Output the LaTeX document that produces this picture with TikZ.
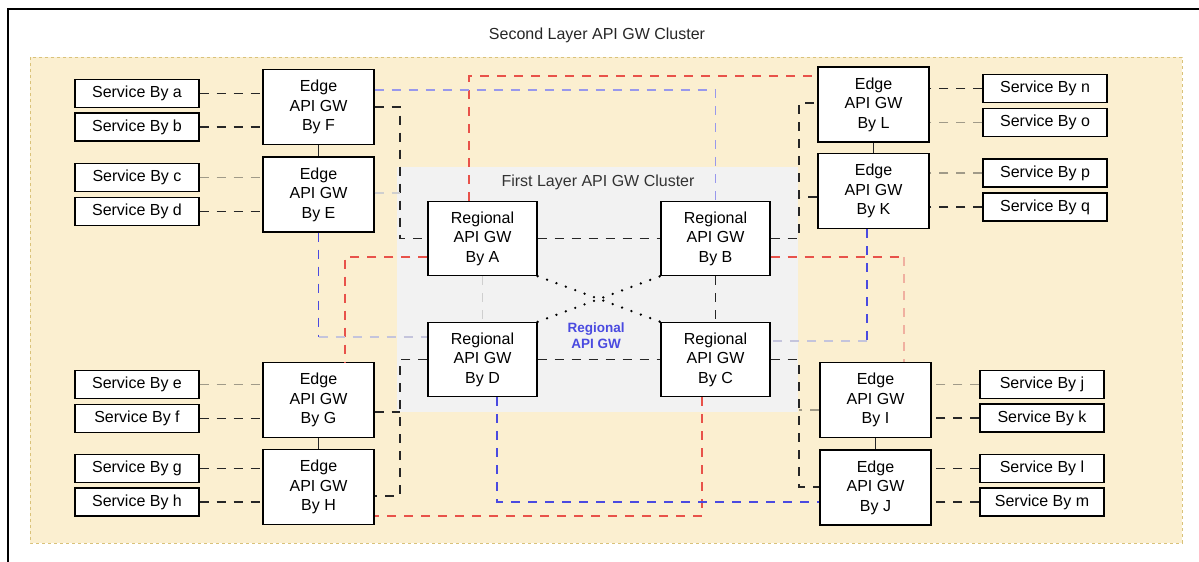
\documentclass[tikz,border=0pt]{standalone}
\usepackage{fontspec}
\setmainfont{Liberation Sans}
\usetikzlibrary{calc}
\definecolor{outerfill}{HTML}{FBEFD0}
\definecolor{outerline}{HTML}{D9C27A}
\definecolor{innerfill}{HTML}{F2F2F2}
\definecolor{redl}{HTML}{E8524A}
\definecolor{pinkl}{HTML}{F0B0A0}
\definecolor{bluel}{HTML}{4A4AE0}
\definecolor{bluepale}{HTML}{9898EC}
\definecolor{bluegray}{HTML}{C4C4DC}
\definecolor{darkl}{HTML}{262626}
\definecolor{tanl}{HTML}{A09A88}
\definecolor{graylt}{HTML}{CFCFCF}
\tikzset{
  box/.style={draw=black, line width=1.4pt, fill=white, align=center,
    font=\fontsize{16}{19.5}\selectfont, inner sep=0pt},
  svc/.style={box, minimum width=124pt, minimum height=28pt},
  edgebox/.style={box, minimum width=111pt, minimum height=75pt},
  regbox/.style={box, minimum width=109pt, minimum height=74pt},
  blk/.style={draw=darkl, line width=1.4pt, dash pattern=on 9pt off 8pt},
  tanc/.style={draw=tanl, line width=1.4pt, dash pattern=on 9pt off 8pt},
  redc/.style={draw=redl, line width=1.4pt, dash pattern=on 9pt off 8pt},
  pinkc/.style={draw=pinkl, line width=1.4pt, dash pattern=on 9pt off 8pt},
  bluec/.style={draw=bluel, line width=1.4pt, dash pattern=on 9pt off 8pt},
  bluepc/.style={draw=bluepale, line width=1.4pt, dash pattern=on 9pt off 8pt},
  bluegc/.style={draw=bluegray, line width=1.4pt, dash pattern=on 9pt off 8pt},
  grayc/.style={draw=graylt, line width=1.4pt, dash pattern=on 9pt off 8pt},
  solidc/.style={draw=darkl, line width=1.4pt},
  dotc/.style={draw=black, line width=2.6pt, dash pattern=on 0pt off 10pt, line cap=round},
}
\begin{document}
\begin{tikzpicture}[x=1pt,y=-1pt]
\useasboundingbox (0,0) rectangle (1199,562);
% frame lines
\draw[line width=1.5pt] (8,562) -- (8,9) -- (1199,9);
% outer cluster
\draw[draw=outerline, fill=outerfill, line width=1pt, dash pattern=on 3pt off 3pt] (30,57) rectangle (1182,543);
\node[font=\fontsize{16}{19}\selectfont, text=black!85] (t2) at (597,35) {Second Layer API GW Cluster};
% inner cluster
\fill[innerfill] (397,167) rectangle (798,412);
\node[font=\fontsize{16}{19}\selectfont, text=black!80] (t1) at (598,182) {First Layer API GW Cluster};

% regional nodes
\node[regbox] (A) at (482.5,238.5) {Regional\\API GW\\By A};
\node[regbox] (B) at (715.5,238.5) {Regional\\API GW\\By B};
\node[regbox] (D) at (482.5,359.5) {Regional\\API GW\\By D};
\node[regbox] (C) at (715.5,359.5) {Regional\\API GW\\By C};
\node[font=\bfseries\fontsize{13.5}{16}\selectfont, text=bluel, align=center] (rl) at (596,336) {Regional\\API GW};

% edge nodes
\node[edgebox] (F) at (318.5,107) {Edge\\API GW\\By F};
\node[edgebox] (E) at (318.5,194.5) {Edge\\API GW\\By E};
\node[edgebox] (G) at (318.5,400) {Edge\\API GW\\By G};
\node[edgebox] (H) at (318.5,487) {Edge\\API GW\\By H};
\node[edgebox] (L) at (873.5,104.5) {Edge\\API GW\\By L};
\node[edgebox] (K) at (873.5,191) {Edge\\API GW\\By K};
\node[edgebox] (I) at (875.5,400) {Edge\\API GW\\By I};
\node[edgebox] (J) at (875.5,487.5) {Edge\\API GW\\By J};

% services left
\node[svc] (sa) at (137,93.5) {Service By a};
\node[svc] (sb) at (137,127) {Service By b};
\node[svc] (sc) at (137,177.5) {Service By c};
\node[svc] (sd) at (137,211.5) {Service By d};
\node[svc] (se) at (137,384.5) {Service By e};
\node[svc] (sf) at (137,418.5) {Service By f};
\node[svc] (sg) at (137,468.5) {Service By g};
\node[svc] (sh) at (137,502) {Service By h};
% services right
\node[svc] (sn) at (1045,88.5) {Service By n};
\node[svc] (so) at (1045,122.5) {Service By o};
\node[svc] (sp) at (1045,173) {Service By p};
\node[svc] (sq) at (1045,207) {Service By q};
\node[svc] (sj) at (1042,384.5) {Service By j};
\node[svc] (sk) at (1042,418) {Service By k};
\node[svc] (sl) at (1042,468.5) {Service By l};
\node[svc] (sm) at (1042,502) {Service By m};

% service connectors
\draw[blk] (sa.east) -- (F.west |- sa.east);
\draw[blk] (sb.east) -- (F.west |- sb.east);
\draw[tanc] (sc.east) -- (E.west |- sc.east);
\draw[blk] (sd.east) -- (E.west |- sd.east);
\draw[tanc] (se.east) -- (G.west |- se.east);
\draw[blk] (sf.east) -- (G.west |- sf.east);
\draw[blk] (sg.east) -- (H.west |- sg.east);
\draw[blk] (sh.east) -- (H.west |- sh.east);
\draw[blk] (sn.west) -- (L.east |- sn.west);
\draw[tanc] (so.west) -- (L.east |- so.west);
\draw[tanc] (sp.west) -- (K.east |- sp.west);
\draw[blk] (sq.west) -- (K.east |- sq.west);
\draw[tanc] (sj.west) -- (I.east |- sj.west);
\draw[blk] (sk.west) -- (I.east |- sk.west);
\draw[blk] (sl.west) -- (J.east |- sl.west);
\draw[blk] (sm.west) -- (J.east |- sm.west);

% edge pairs
\draw[solidc] (F.south) -- (E.north);
\draw[solidc] (G.south) -- (H.north);
\draw[solidc] (L.south) -- (K.north);
\draw[solidc] (I.south) -- (J.north);

% regional mesh
\draw[blk] (A.east) -- (B.west);
\draw[blk] (D.east) -- (C.west);
\draw[blk] (B.south) -- (C.north);
\draw[grayc] (A.south) -- (D.north);
\draw[dotc] (A.south east) -- (C.north west);
\draw[dotc] (D.north east) -- (B.south west);

% black edge-regional links
\coordinate (vl1) at (400,238.5);
\draw[blk] (F.east) -| (vl1) -- (A.west);
\draw[grayc] (E.east |- 0,193) -- (400,193);
\coordinate (vl2) at (400,496);
\draw[blk] (D.west) -| (vl2) -- (H.east |- vl2);
\draw[blk] (G.east |- 0,412) -- (400,412);
\coordinate (vr1) at (799,103);
\draw[blk] (B.east) -| (vr1) -- (L.west |- vr1);
\draw[blk] (K.west |- 0,197) -- (799,197);
\coordinate (vr2) at (799,487);
\draw[blk] (C.east) -| (vr2) -- (J.west |- vr2);
\draw[tanc] (I.west |- 0,410) -- (799,410);

% red links
\draw[redc] (469,0 |- A.north) |- (L.west |- 0,76);
\draw[redc] (A.west |- 0,257) -| (345,0 |- G.north);
\draw[redc] (B.east |- 0,257) -- (904,257);
\draw[pinkc] (904,257) -- (904,0 |- I.north);
\draw[redc] (702,0 |- C.south) |- (H.east |- 0,516);

% blue links
\draw[bluepc] (F.east |- 0,90) -| (B.north);
\draw[bluec] (E.south) -- (E.south |- 0,337) coordinate (be);
\draw[bluegc] (be) -- (D.west |- be);
\draw[bluec] (867,0 |- K.south) -- (867,341) coordinate (bk);
\draw[bluegc] (bk) -- (C.east |- bk);
\draw[bluec] (497,0 |- D.south) |- (J.west |- 0,502);
\end{tikzpicture}
\end{document}
